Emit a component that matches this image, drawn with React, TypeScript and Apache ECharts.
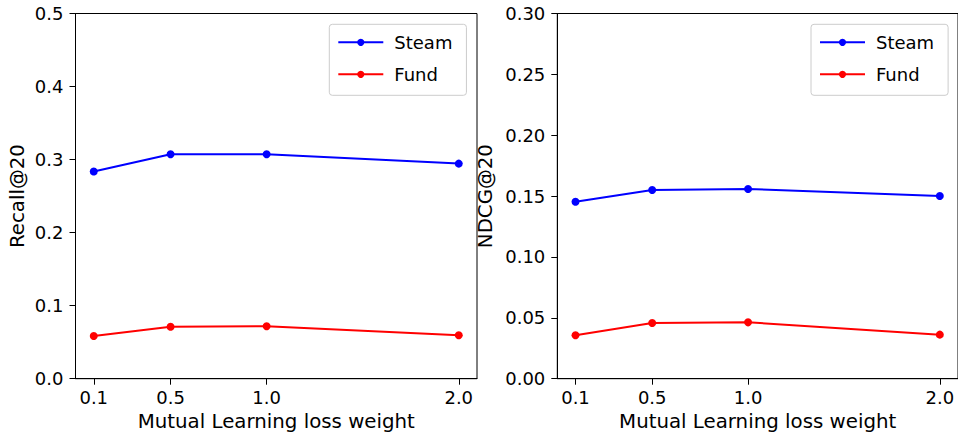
import React, { useEffect, useRef } from "react";
import * as echarts from "echarts";

const xValues = [0.1, 0.5, 1.0, 2.0];
const recallSteam = [0.2836, 0.3074, 0.3074, 0.2945];
const recallFund = [0.0585, 0.0712, 0.0718, 0.0594];
const ndcgSteam = [0.1454, 0.155, 0.1559, 0.1501];
const ndcgFund = [0.0357, 0.0458, 0.0463, 0.0362];
const seriesNames = ["Steam", "Fund"];
const xLabel = "Mutual Learning loss weight";
const yLabels = ["Recall@20", "NDCG@20"];

const FONT = "DejaVu Sans";

export default function App() {
  const ref = useRef<HTMLDivElement>(null);
  useEffect(() => {
    if (!ref.current) return;
    const chart = echarts.init(ref.current, null, { renderer: "svg" });
    const pair = (ys: number[]) => xValues.map((x, i) => [x, ys[i]]);
    const xAxisBase = (gridIndex: number) => ({
      type: "value",
      gridIndex,
      min: 0.005,
      max: 2.095,
      name: xLabel,
      nameLocation: "middle",
      nameGap: 31,
      nameTextStyle: { fontFamily: FONT, fontSize: 19.8, color: "#000" },
      axisLine: { show: true, onZero: false, lineStyle: { color: "#000", width: 1 } },
      axisTick: { show: true, length: 6, customValues: xValues, lineStyle: { color: "#000", width: 1 } },
      axisLabel: {
        customValues: xValues,
        formatter: (v: number) => v.toFixed(1),
        fontFamily: FONT,
        fontSize: 18,
        color: "#000",
        margin: 10,
      },
      splitLine: { show: false },
    });
    const yAxisBase = (gridIndex: number, max: number, interval: number, dec: number, nameGap: number) => ({
      type: "value",
      gridIndex,
      min: 0,
      max,
      interval,
      name: yLabels[gridIndex],
      nameLocation: "middle",
      nameGap,
      nameTextStyle: { fontFamily: FONT, fontSize: 19.8, color: "#000" },
      axisLine: { show: true, lineStyle: { color: "#000", width: 1 } },
      axisTick: { show: true, length: 6, lineStyle: { color: "#000", width: 1 } },
      axisLabel: {
        formatter: (v: number) => v.toFixed(dec),
        fontFamily: FONT,
        fontSize: 18,
        color: "#000",
        margin: 12,
      },
      splitLine: { show: false },
    });
    const mkSeries = (name: string, data: number[], color: string, idx: number) => ({
      type: "line",
      name,
      xAxisIndex: idx,
      yAxisIndex: idx,
      data: pair(data),
      symbol: "circle",
      symbolSize: 8,
      showSymbol: true,
      lineStyle: { color, width: 2 },
      itemStyle: { color },
      emphasis: { disabled: true },
    });
    const legendBase = (left: number) => ({
      left,
      top: 24.3,
      orient: "vertical",
      data: seriesNames,
      itemWidth: 45,
      itemHeight: 9,
      itemGap: 14,
      padding: [9, 14, 12, 8],
      backgroundColor: "rgba(255,255,255,0.8)",
      borderColor: "#cccccc",
      borderWidth: 1,
      borderRadius: 3,
      textStyle: { fontFamily: FONT, fontSize: 18, color: "#000", padding: [0, 0, 0, 6] },
    });
    chart.setOption({
      animation: false,
      grid: [
        { left: 75.5, top: 13.5, width: 401.5, height: 365.2, show: true, borderColor: "#000", borderWidth: 1, backgroundColor: "transparent" },
        { left: 557.3, top: 13.5, width: 401.5, height: 365.2, show: true, borderColor: "#000", borderWidth: 1, backgroundColor: "transparent" },
      ],
      xAxis: [xAxisBase(0), xAxisBase(1)],
      yAxis: [yAxisBase(0, 0.5, 0.1, 1, 48), yAxisBase(1, 0.3, 0.05, 2, 62)],
      legend: [legendBase(329.3), legendBase(811)],
      series: [
        mkSeries(seriesNames[0], recallSteam, "#0000ff", 0),
        mkSeries(seriesNames[1], recallFund, "#ff0000", 0),
        mkSeries(seriesNames[0], ndcgSteam, "#0000ff", 1),
        mkSeries(seriesNames[1], ndcgFund, "#ff0000", 1),
      ],
    });
    return () => chart.dispose();
  }, []);
  return (
    <div
      ref={ref}
      style={{ position: "fixed", left: 0, top: 0, width: 958, height: 437, background: "#fff" }}
    />
  );
}
